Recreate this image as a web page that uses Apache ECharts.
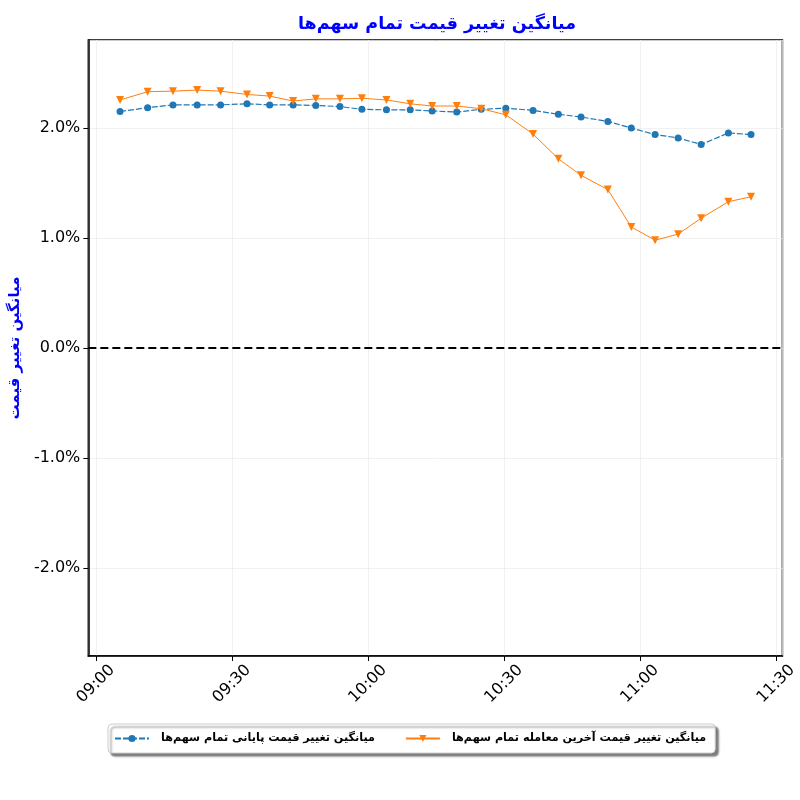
<!DOCTYPE html>
<html lang="fa">
  <head>
    <meta charset="utf-8" />
    <title>میانگین تغییر قیمت تمام سهم‌ها</title>
    <script src="https://cdn.jsdelivr.net/npm/echarts@6/dist/echarts.min.js"></script>
    <style>
      html, body { margin: 0; padding: 0; background: #fff; }
      #chart1 { width: 800px; height: 800px; }
    </style>
  </head>
  <body>
    <div id="chart1"></div>
    <script type="text/javascript">
      // زمان نمونه‌ها
      var times = [
        "09:05:20", "09:11:25", "09:17:00", "09:22:20", "09:27:30", "09:33:20",
        "09:38:20", "09:43:30", "09:48:30", "09:53:50", "09:58:40", "10:04:05",
        "10:09:20", "10:14:10", "10:19:35", "10:25:00", "10:30:25", "10:36:25",
        "10:42:00", "10:47:00", "10:52:55", "10:58:05", "11:03:20", "11:08:25",
        "11:13:30", "11:19:30", "11:24:30"
      ];
      // میانگین تغییر قیمت پایانی (درصد)
      var closeChange = [
        2.15, 2.185, 2.21, 2.21, 2.21, 2.22, 2.21, 2.21, 2.205, 2.195, 2.17, 2.165,
        2.165, 2.155, 2.145, 2.17, 2.18, 2.16, 2.125, 2.10, 2.06, 2.00, 1.94, 1.91,
        1.85, 1.955, 1.94
      ];
      // میانگین تغییر قیمت آخرین معامله (درصد)
      var lastChange = [
        2.255, 2.33, 2.335, 2.345, 2.335, 2.305, 2.29, 2.245, 2.265, 2.265, 2.27, 2.255,
        2.22, 2.20, 2.20, 2.175, 2.12, 1.945, 1.72, 1.57, 1.44, 1.10, 0.98, 1.035,
        1.18, 1.33, 1.375
      ];
      var yTicks = [-2, -1, 0, 1, 2];

      function toTime(s) {
        var p = s.split(":");
        return new Date(2024, 0, 1, +p[0], +p[1], +p[2]).getTime();
      }
      function pairs(vals) {
        var out = [];
        for (var i = 0; i < times.length; ++i) {
          out.push([toTime(times[i]), vals[i]]);
        }
        return out;
      }

      var font = "DejaVu Sans";
      var myChart = echarts.init(document.getElementById("chart1"));
      myChart.setOption({
        animation: false,
        textStyle: { fontFamily: font },
        title: {
          text: "میانگین تغییر قیمت تمام سهم‌ها",
          left: 432,
          textAlign: "center",
          top: 10,
          textStyle: { color: "#0000ff", fontSize: 17.5, fontWeight: "bold", fontFamily: font },
        },
        legend: {
          top: 724,
          left: 108,
          itemGap: 30,
          itemWidth: 34,
          itemHeight: 9,
          padding: [9, 9, 9, 6],
          borderColor: "#cccccc",
          borderWidth: 1,
          borderRadius: 4,
          backgroundColor: "#ffffff",
          shadowColor: "rgba(0,0,0,0.5)",
          shadowBlur: 2,
          shadowOffsetX: 3,
          shadowOffsetY: 3,
          textStyle: { fontSize: 11.2, fontWeight: "bold", color: "#000", fontFamily: font,
                       padding: [0, 0, 0, 7] },
          data: ["میانگین تغییر قیمت پایانی تمام سهم‌ها", "میانگین تغییر قیمت آخرین معامله تمام سهم‌ها"],
        },
        grid: { left: 80, right: 16, top: 40, bottom: 144, containLabel: false,
                show: true, borderColor: "#000", borderWidth: 1.5 },
        xAxis: {
          type: "time",
          min: toTime("08:58:20"),
          max: toTime("11:31:25"),
          splitNumber: 5,
          axisLine: { show: true, onZero: false, lineStyle: { color: "#000", width: 1.5 } },
          axisTick: { show: true, length: 5, lineStyle: { color: "#000" } },
          axisLabel: {
            rotate: 45,
            align: "center",
            verticalAlign: "middle",
            fontSize: 16,
            color: "#000",
            margin: 28,
            formatter: "{HH}:{mm}",
            hideOverlap: false,
          },
          splitLine: { show: true, lineStyle: { color: "#eeeeee", width: 0.8 } },
        },
        yAxis: {
          type: "value",
          min: -2.8,
          max: 2.8,
          name: "میانگین تغییر قیمت",
          nameLocation: "middle",
          nameGap: 63,
          nameRotate: 90,
          nameTextStyle: { color: "#0000ff", fontSize: 15, fontWeight: "bold", fontFamily: font },
          axisLine: { show: true, onZero: false, lineStyle: { color: "#000", width: 1.5 } },
          axisTick: { show: true, length: 5, lineStyle: { color: "#000" } },
          axisLabel: {
            fontSize: 16,
            color: "#000",
            margin: 8,
            showMinLabel: false,
            showMaxLabel: false,
            formatter: function (v) {
              if (yTicks.indexOf(Math.round(v * 10) / 10) < 0) return "";
              return v.toFixed(1) + "%";
            },
          },
          splitLine: { show: true, lineStyle: { color: "#eeeeee", width: 0.8 } },
        },
        series: [
          {
            name: "میانگین تغییر قیمت پایانی تمام سهم‌ها",
            type: "line",
            data: pairs(closeChange),
            symbol: "circle",
            symbolSize: 7,
            color: "#1f77b4",
            lineStyle: { width: 1.2, type: [6, 2] },
            z: 3,
            markLine: {
              silent: true,
              symbol: "none",
              label: { show: false },
              lineStyle: { color: "#000", width: 2, type: [8, 4] },
              data: [{ yAxis: 0 }],
            },
          },
          {
            name: "میانگین تغییر قیمت آخرین معامله تمام سهم‌ها",
            type: "line",
            data: pairs(lastChange),
            symbol: "triangle",
            symbolRotate: 180,
            symbolSize: 8,
            color: "#ff7f0e",
            lineStyle: { width: 1 },
            z: 4,
          },
        ],
      });
    </script>
  </body>
</html>
